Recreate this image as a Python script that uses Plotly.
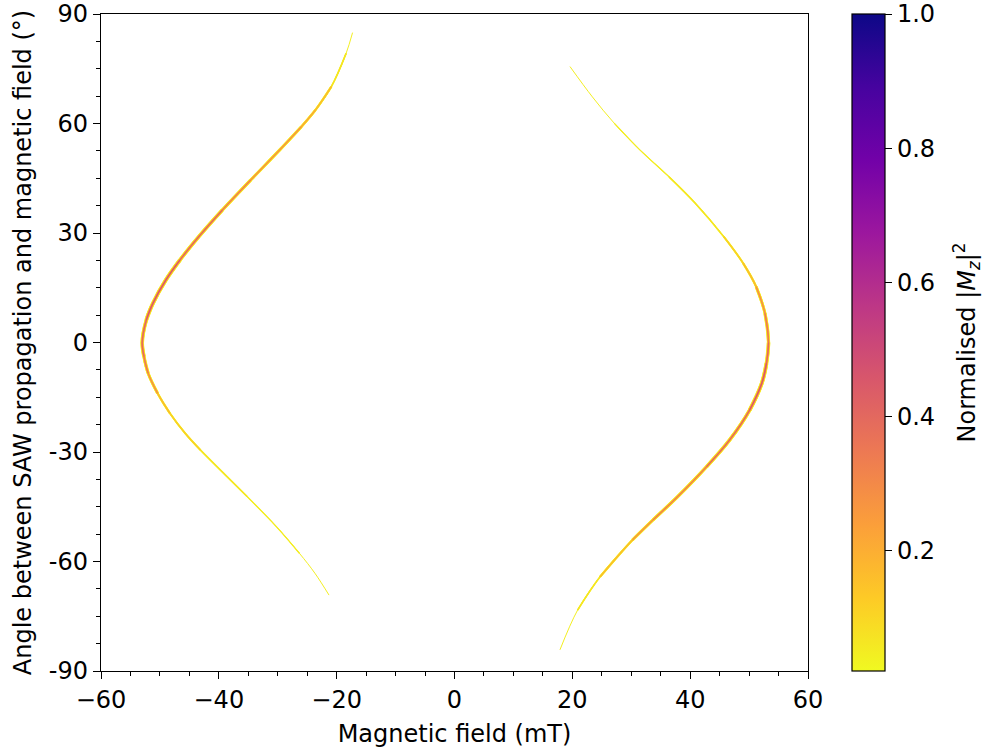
import numpy as np
import plotly.graph_objects as go
from plotly.colors import sample_colorscale, sequential

# Low-field resonance branch: angle (deg), field (mT), normalised |Mz|^2 along the line
left_angle = [84.9, 79.2, 70.1, 63.7, 59.1, 52.7, 44.5, 36.3, 29.0, 22.6, 17.1, 10.7, 6.2, 0.0,
              -3.9, -8.4, -13.9, -19.4, -24.9, -29.5, -35.8, -42.2, -50.5, -57.8, -63.2, -69.2]
left_field = [-17.3, -18.4, -20.9, -23.6, -26.0, -29.7, -34.6, -39.4, -43.4, -46.6, -49.0, -51.2, -52.3, -53.0,
              -52.7, -52.0, -50.4, -48.3, -45.7, -43.1, -39.2, -35.2, -30.2, -26.3, -23.7, -21.3]
left_mz = [0.03, 0.10, 0.20, 0.26, 0.30, 0.34, 0.38, 0.40, 0.42, 0.44, 0.45, 0.45, 0.45, 0.43,
           0.40, 0.36, 0.30, 0.24, 0.19, 0.16, 0.13, 0.10, 0.07, 0.05, 0.035, 0.02]

# High-field resonance branch
right_angle = [75.6, 67.3, 60.1, 52.7, 45.4, 38.1, 29.0, 21.7, 15.3, 8.0, 0.0,
               -5.7, -11.2, -18.5, -26.7, -34.0, -42.2, -48.6, -54.1, -64.2, -73.3, -84.2]
right_field = [19.6, 23.4, 27.1, 31.5, 36.4, 40.9, 45.7, 49.0, 51.2, 52.7, 53.3,
               52.95, 52.15, 50.1, 46.7, 42.8, 37.9, 33.7, 30.2, 24.7, 20.9, 17.9]
right_mz = [0.02, 0.04, 0.06, 0.08, 0.11, 0.14, 0.18, 0.24, 0.30, 0.38, 0.43,
            0.45, 0.45, 0.44, 0.42, 0.40, 0.38, 0.35, 0.30, 0.22, 0.13, 0.03]

x_ticks = [-60, -40, -20, 0, 20, 40, 60]
y_ticks = [-90, -60, -30, 0, 30, 60, 90]
y_ticktext = ["-90", "-60", "-30", "0", "30", "60", "90"]
cbar_ticks = [0.2, 0.4, 0.6, 0.8, 1.0]
cbar_ticktext = ["0.2", "0.4", "0.6", "0.8", "1.0"]

CMIN, CMAX = 0.021, 1.0
SCALE = sequential.Plasma_r
FONT = "DejaVu Sans"
FS = 24

# intensity levels used to build up the line profile (tail -> core)
LEVELS = [0.0, 0.05, 0.1, 0.15, 0.2, 0.25, 0.3, 0.35, 0.4, 0.44]


def cmap(v):
    t = float(np.clip((v - CMIN) / (CMAX - CMIN), 0.0, 1.0))
    return sample_colorscale(SCALE, [t])[0]


fig = go.Figure()


def run_above(field, angle, mz, level):
    idx = [i for i, v in enumerate(mz) if v >= level]
    if len(idx) < 2:
        return None
    lo, hi = idx[0], idx[-1] + 1
    return field[lo:hi], angle[lo:hi]


def add_layer(branches, col_fn, w_fn, min_level=0.0):
    for lev in LEVELS:
        if lev < min_level:
            continue
        for field, angle, mz in branches:
            seg = run_above(field, angle, mz, lev)
            if seg is None:
                continue
            fig.add_trace(go.Scatter(
                x=seg[0], y=seg[1], mode="lines",
                line=dict(color=cmap(col_fn(lev)), width=w_fn(lev), shape="spline", smoothing=1.0),
                hoverinfo="skip", showlegend=False))


branches = [(left_field, left_angle, left_mz), (right_field, right_angle, right_mz)]

# pale tail, shoulder, bright core of the resonance line
add_layer(branches, lambda v: 0.045, lambda v: 1.0 + 6.5 * v)
add_layer(branches, lambda v: 0.03 + 0.5 * v, lambda v: 0.6 + 3.6 * v, min_level=0.05)
add_layer(branches, lambda v: v, lambda v: 0.3 + 2.0 * v, min_level=0.15)

# colour scale reference
fig.add_trace(go.Scatter(
    x=[None], y=[None], mode="markers", showlegend=False, hoverinfo="skip",
    marker=dict(color=[CMIN, CMAX], colorscale=SCALE, cmin=CMIN, cmax=CMAX, showscale=True,
                colorbar=dict(
                    x=(852 - 101) / 707, xanchor="left", y=0.5, yanchor="middle",
                    len=1, lenmode="fraction", thickness=33, thicknessmode="pixels",
                    xpad=0, ypad=0, outlinecolor="black", outlinewidth=1.2,
                    ticks="outside", ticklen=7, tickwidth=1.2, tickcolor="black",
                    tickvals=cbar_ticks, ticktext=cbar_ticktext,
                    tickfont=dict(family=FONT, size=FS, color="black"),
                ))))

fig.add_annotation(
    text="Normalised |<i>M</i><sub><i>z</i></sub>|<sup>2</sup>",
    xref="paper", yref="paper", x=(966 - 101) / 707, y=0.5,
    xanchor="center", yanchor="middle", textangle=-90, showarrow=False,
    font=dict(family=FONT, size=FS, color="black"))

axis_common = dict(
    showline=True, linecolor="black", linewidth=1.3, mirror=True,
    ticks="outside", ticklen=7, tickwidth=1.3, tickcolor="black",
    showgrid=False, zeroline=False,
    tickfont=dict(family=FONT, size=FS, color="black"),
)

fig.update_xaxes(
    range=[-60, 60], tickmode="array", tickvals=x_ticks,
    minor=dict(tickmode="array", tickvals=list(np.arange(-60, 60.1, 5)),
               ticks="outside", ticklen=4, tickwidth=1.0, tickcolor="black", showgrid=False),
    title=dict(text="Magnetic field (mT)", font=dict(family=FONT, size=FS, color="black"), standoff=12),
    **axis_common)
fig.update_yaxes(
    range=[-90, 90], tickmode="array", tickvals=y_ticks, ticktext=y_ticktext,
    minor=dict(tickmode="array", tickvals=list(np.arange(-90, 90.1, 7.5)),
               ticks="outside", ticklen=4, tickwidth=1.0, tickcolor="black", showgrid=False),
    title=dict(text="Angle between SAW propagation and magnetic field (°)",
               font=dict(family=FONT, size=FS, color="black"), standoff=10),
    **axis_common)

fig.update_layout(
    width=984, height=751,
    margin=dict(l=101, r=176, t=14, b=80, autoexpand=False),
    plot_bgcolor="white", paper_bgcolor="white",
    font=dict(family=FONT, size=FS, color="black"),
    showlegend=False,
)

fig.write_html("out.html")
